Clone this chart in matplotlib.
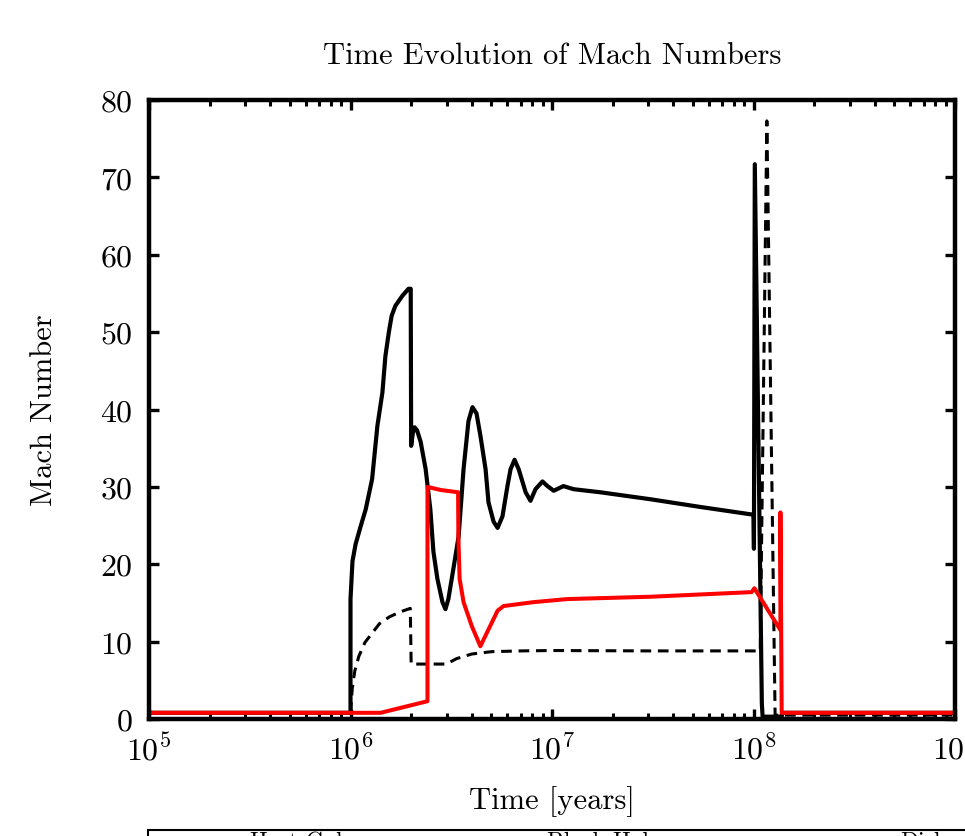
import matplotlib
matplotlib.use("Agg")
import matplotlib.pyplot as plt
from matplotlib.ticker import LogLocator, NullLocator, FixedLocator
from matplotlib.patches import Rectangle

plt.rcParams['font.family'] = 'serif'
plt.rcParams['font.serif'] = ['cmr10', 'DejaVu Serif']
plt.rcParams['mathtext.fontset'] = 'cm'
plt.rcParams['axes.formatter.use_mathtext'] = True
plt.rcParams['axes.unicode_minus'] = False

# ---- data (time in years, Mach number) ----
host_t = [1e5, 1.0e6, 1.0e6, 1.023e6, 1.06e6, 1.12e6, 1.19e6, 1.28e6, 1.36e6, 1.44e6,
          1.49e6, 1.55e6, 1.60e6, 1.67e6, 1.81e6, 1.94e6, 1.99e6, 2.0e6, 2.04e6,
          2.08e6, 2.14e6, 2.23e6, 2.36e6, 2.49e6, 2.58e6, 2.70e6, 2.86e6, 2.96e6,
          3.06e6, 3.24e6, 3.44e6, 3.64e6, 3.85e6, 4.03e6, 4.22e6, 4.42e6, 4.68e6,
          4.84e6, 5.13e6, 5.37e6, 5.68e6, 6.01e6, 6.23e6, 6.52e6, 6.83e6, 7.40e6,
          7.82e6, 8.28e6, 8.97e6, 9.50e6, 1.02e7, 1.14e7, 1.28e7, 1.74e7, 3.08e7,
          5.46e7, 1.0e8, 1.005e8, 1.015e8, 1.1e8, 1.11e8, 1.38e8, 1.39e8, 1e9]
host_m = [0.8, 0.8, 15.5, 20.4, 22.6, 24.8, 27.1, 31.0, 37.9, 42.2,
          46.9, 50.0, 52.1, 53.4, 54.7, 55.6, 55.6, 35.3, 37.0,
          37.7, 37.3, 35.8, 32.3, 27.1, 21.6, 18.1, 15.1, 14.2,
          15.5, 19.4, 23.6, 32.3, 38.5, 40.3, 39.5, 36.5, 32.3,
          28.0, 25.5, 24.7, 26.2, 30.1, 32.3, 33.5, 32.3, 29.3,
          28.2, 29.7, 30.7, 30.1, 29.5, 30.1, 29.7, 29.3, 28.4,
          27.4, 26.4, 22.0, 71.7, 2.0, 0.3, 0.3, 0.8, 0.8]

bh_t = [1.0e6, 1.02e6, 1.05e6, 1.1e6, 1.18e6, 1.29e6, 1.39e6, 1.56e6, 1.75e6,
        1.98e6, 2.0e6, 2.99e6, 3.36e6, 4.0e6, 5.0e6, 7.0e6, 1e7, 3e7, 1.08e8,
        1.165e8, 1.28e8, 1e9]
bh_m = [0.8, 3.9, 6.2, 8.1, 9.9, 11.2, 12.3, 13.2, 13.8,
        14.3, 7.1, 7.1, 7.8, 8.4, 8.7, 8.8, 8.85, 8.8, 8.8,
        77.3, 0.5, 0.5]

disk_t = [1e5, 1.41e6, 2.41e6, 2.41e6, 2.80e6, 3.42e6, 3.43e6, 3.48e6, 3.64e6,
          4.0e6, 4.41e6, 5.37e6, 5.75e6, 8.08e6, 1.19e7, 3.08e7, 9.8e7,
          1.01e8, 1.36e8, 1.36e8, 1.38e8, 1e9]
disk_m = [0.8, 0.8, 2.3, 30.0, 29.6, 29.3, 23.6, 18.1, 15.1,
          12.0, 9.4, 14.0, 14.6, 15.1, 15.5, 15.8, 16.4,
          16.9, 11.5, 26.7, 0.8, 0.8]

labels = ["Host Galaxy", "Black Hole", "Disk"]
xticks = [1e5, 1e6, 1e7, 1e8, 1e9]
yticks = [0, 10, 20, 30, 40, 50, 60, 70, 80]

fig = plt.figure(figsize=(9.65, 8.37), dpi=100)
ax = fig.add_axes([149/965, 1-720/837, (955-149)/965, (720-101)/837])

l1, = ax.plot(host_t, host_m, color='black', lw=3.0, solid_joinstyle='round',
              solid_capstyle='round', label=labels[0])
l2, = ax.plot(bh_t, bh_m, color='black', lw=2.2, dashes=(3.5, 2.2), label=labels[1])
l3, = ax.plot(disk_t, disk_m, color='#ff0000', lw=2.9, solid_joinstyle='round',
              solid_capstyle='round', label=labels[2])

ax.set_xscale('log')
ax.set_xlim(1e5, 1e9)
ax.set_ylim(0, 80)
ax.xaxis.set_major_locator(FixedLocator(xticks))
ax.xaxis.set_minor_locator(LogLocator(base=10, subs=range(2, 10), numticks=20))
ax.yaxis.set_major_locator(FixedLocator(yticks))
ax.yaxis.set_minor_locator(NullLocator())

for s in ax.spines.values():
    s.set_linewidth(3.2)
ax.tick_params(which='major', direction='in', length=7.5, width=2.4, top=True, right=True,
               labelsize=23)
ax.tick_params(axis='x', which='major', pad=10)
ax.tick_params(axis='y', which='major', pad=12)
ax.tick_params(which='minor', direction='in', length=4.5, width=2.2, top=True, right=True)

ax.set_title("Time Evolution of Mach Numbers", fontsize=22, pad=27)
ax.set_xlabel("Time [years]", fontsize=22, labelpad=14)
ax.set_ylabel("Mach Number", fontsize=22, labelpad=30)

# legend: frame drawn as a box, entries placed individually (text before sample)
frame = Rectangle((148/965, -0.2), 1.0, 0.2 + (1 - 831/837), transform=fig.transFigure,
                  fill=False, edgecolor='black', lw=1.5, clip_on=False)
fig.add_artist(frame)
for handle, lab, xpx in zip([l1, l2, l3], labels, [250, 547, 900]):
    fig.legend(handles=[handle], labels=[lab], loc='upper left',
               bbox_to_anchor=(xpx/965, 1-832/837), frameon=False, fontsize=17,
               markerfirst=False, borderpad=0, borderaxespad=0, handlelength=3.5)

fig.savefig("out.png", dpi=100)
